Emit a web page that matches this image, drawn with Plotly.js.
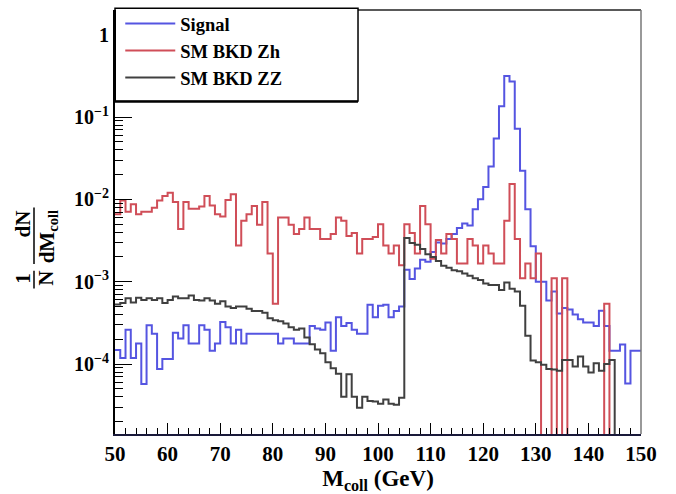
<!DOCTYPE html>
<html><head><meta charset="utf-8">
<script src="https://cdn.plot.ly/plotly-3.0.1.min.js"></script>
<style>body{margin:0;background:#fff}#chart{width:676px;height:494px}</style>
</head><body><div id="chart"></div>
<script>
// Bin low edges (GeV), 1 GeV bins
const binLowEdges = [50,51,52,53,54,55,56,57,58,59,60,61,62,63,64,65,66,67,68,69,
70,71,72,73,74,75,76,77,78,79,80,81,82,83,84,85,86,87,88,89,
90,91,92,93,94,95,96,97,98,99,100,101,102,103,104,105,106,107,108,109,
110,111,112,113,114,115,116,117,118,119,120,121,122,123,124,125,126,127,128,129,
130,131,132,133,134,135,136,137,138,139,140,141,142,143,144,145,146,147,148,149];
const upperEdge = 150;

const signal = [1.48e-4,1.18e-4,2.6e-4,1.18e-4,1.77e-4,5.7e-5,2.95e-4,2.33e-4,8.7e-5,1.15e-4,
1.15e-4,2.4e-4,2.04e-4,2.95e-4,1.77e-4,1.77e-4,2.95e-4,2.6e-4,1.45e-4,1.77e-4,
3.25e-4,2.8e-4,1.77e-4,2.6e-4,1.77e-4,2.33e-4,2.33e-4,2.33e-4,2.33e-4,2.33e-4,
2.33e-4,1.77e-4,2.04e-4,2.04e-4,1.77e-4,1.77e-4,1.77e-4,2.9e-4,2.7e-4,2.6e-4,
3.2e-4,1.45e-4,3.7e-4,2.9e-4,3.16e-4,2.6e-4,2.33e-4,2.33e-4,5.25e-4,3.7e-4,
5.1e-4,5.25e-4,3.7e-4,4.4e-4,5.0e-4,1.4e-3,1.08e-3,1.45e-3,1.85e-3,1.75e-3,
2.3e-3,3.0e-3,2.9e-3,3.3e-3,3.8e-3,4.5e-3,5.1e-3,4.8e-3,7.6e-3,1.0e-2,
1.41e-2,2.5e-2,5.5e-2,0.135,0.316,0.27,0.072,0.0222,7.6e-3,2.7e-3,
1.0e-3,1.0e-3,5.9e-4,7.6e-4,4.1e-4,4.8e-4,4.6e-4,4.0e-4,3.5e-4,3.2e-4,
3.2e-4,2.9e-4,4.45e-4,2.9e-4,1.45e-4,1.45e-4,1.73e-4,5.8e-5,1.45e-4,1.45e-4];

const smZh = [6.6e-3,9.7e-3,7.06e-3,8.7e-3,6.6e-3,7.06e-3,7.06e-3,7.9e-3,9.7e-3,1.1e-2,
1.2e-2,9.3e-3,4.37e-3,9.3e-3,7.7e-3,7.7e-3,8.2e-3,1.1e-2,8.4e-3,6.6e-3,
6.2e-3,9.8e-3,1.15e-2,2.76e-3,5.5e-3,6.6e-3,8.3e-3,4.9e-3,9.3e-3,2.2e-3,
5.4e-4,6.0e-3,6.0e-3,4.9e-3,3.8e-3,4.37e-3,6.0e-3,4.37e-3,4.37e-3,3.3e-3,
3.3e-3,3.8e-3,6.0e-3,5.5e-3,3.6e-3,3.9e-3,2.2e-3,3.3e-3,3.3e-3,3.5e-3,
5.0e-3,2.76e-3,2.2e-3,2.76e-3,1.58e-3,5.0e-3,3.9e-3,2.2e-3,8.3e-3,5.0e-3,
1.9e-3,3.2e-3,2.2e-3,3.8e-3,3.3e-3,1.66e-3,1.66e-3,3.3e-3,2.76e-3,1.66e-3,
2.76e-3,2.2e-3,1.66e-3,1.66e-3,5.5e-3,1.54e-2,3.3e-3,1.1e-3,1.66e-3,1.1e-3,
2.2e-3,0,0,1.1e-3,0,1.1e-3,0,0,0,0,
0,0,0,5.4e-4,0,0,0,0,0,0];

const smZZ = [5.3e-4,5.5e-4,6.3e-4,5.6e-4,6.4e-4,6.0e-4,6.3e-4,6.0e-4,6.3e-4,5.5e-4,
6.0e-4,6.6e-4,6.3e-4,6.3e-4,6.8e-4,6.0e-4,5.9e-4,6.3e-4,5.9e-4,5.4e-4,
5.8e-4,5.0e-4,4.8e-4,5.0e-4,5.0e-4,4.7e-4,4.4e-4,4.4e-4,4.2e-4,3.6e-4,
3.4e-4,3.3e-4,3.1e-4,2.8e-4,2.6e-4,2.7e-4,2.1e-4,1.74e-4,1.5e-4,1.35e-4,
1.05e-4,8.9e-5,7.6e-5,4.0e-5,7.5e-5,4.0e-5,2.95e-5,4.0e-5,3.55e-5,3.5e-5,
3.3e-5,3.7e-5,3.3e-5,3.2e-5,3.9e-5,3.4e-3,2.96e-3,2.8e-3,2.5e-3,2.15e-3,
2.0e-3,1.78e-3,1.56e-3,1.48e-3,1.38e-3,1.34e-3,1.26e-3,1.18e-3,1.1e-3,1.05e-3,
9.5e-4,9.1e-4,9.1e-4,7.9e-4,9.8e-4,8.2e-4,7.6e-4,5.1e-4,2.2e-4,1.1e-4,
1.05e-4,9.8e-5,8.7e-5,8.6e-5,8.3e-5,1.12e-4,1.12e-4,9.3e-5,1.23e-4,9.3e-5,
7.9e-5,1.02e-4,8.3e-5,1.0e-4,1.12e-4,0,0,0,0,0];

const seriesNames = ['Signal','SM BKD Zh','SM BKD ZZ'];
const seriesColors = ['rgb(85,85,225)','rgb(208,78,88)','rgb(64,64,64)'];
const xTickVals = [50,60,70,80,90,100,110,120,130,140,150];
const yTickVals = [1e-4,1e-3,1e-2,1e-1,1];
const yTickText = ['10<sup>\u22124</sup>','10<sup>\u22123</sup>','10<sup>\u22122</sup>','10<sup>\u22121</sup>','1'];

const EMPTY_FLOOR = 1e-9; // empty bins drawn below the axis (like ROOT on log scale)
function stepTrace(vals, name, color){
  const x = binLowEdges.concat([upperEdge]);
  const v = vals.map(d => d > 0 ? d : EMPTY_FLOOR);
  const y = v.concat([v[v.length-1]]);
  return {x:x, y:y, type:'scatter', mode:'lines', name:name,
    line:{shape:'hv', color:color, width:2}, legendgroup:name};
}
const data = [stepTrace(signal, seriesNames[0], seriesColors[0]),
              stepTrace(smZh, seriesNames[1], seriesColors[1]),
              stepTrace(smZZ, seriesNames[2], seriesColors[2])];

const minorY = [];
for (let e=-5; e<=0; e++) for (let m=2; m<=9; m++) minorY.push(m*Math.pow(10,e));

const serif = 'Liberation Serif, Times New Roman, serif';
function yTitle(text, px, py){
  return {xref:'paper', yref:'paper', x:(px-115)/526, y:(434-py)/429, xanchor:'center', yanchor:'middle',
    text:'<b>'+text+'</b>', showarrow:false, textangle:-90,
    font:{family:serif, size:21, color:'#000'}};
}
const layout = {
  width:676, height:494,
  margin:{l:115, r:35, t:5, b:60},
  paper_bgcolor:'#fff', plot_bgcolor:'#fff',
  showlegend:true,
  legend:{x:0.01, y:1.012, xanchor:'left', yanchor:'top', bgcolor:'rgba(0,0,0,0)', borderwidth:0,
    font:{family:serif, size:18.5, color:'#000', weight:'bold'}, itemwidth:50,
    traceorder:'grouped', tracegroupgap:0},
  xaxis:{range:[50,150], tickvals:xTickVals,
    ticks:'inside', ticklen:11, tickwidth:1, tickcolor:'#000',
    minor:{dtick:2, ticks:'inside', ticklen:6, tickcolor:'#000', tickwidth:1},
    showgrid:false, zeroline:false, showline:true, linecolor:'#1a1a3a', linewidth:2, mirror:false,
    tickfont:{family:serif, size:21, color:'#000', weight:'bold'},
    title:{text:'M<sub>coll</sub> (GeV)', font:{family:serif, size:23, color:'#000', weight:'bold'}, standoff:4}},
  yaxis:{type:'log', range:[-4.85, 0.3], tickmode:'array', tickvals:yTickVals, ticktext:yTickText,
    ticks:'inside', ticklen:17, tickwidth:1, tickcolor:'#000',
    minor:{tickvals:minorY, ticks:'inside', ticklen:8, tickcolor:'#000', tickwidth:1},
    showgrid:false, zeroline:false, showline:true, linecolor:'#000', linewidth:2,
    tickfont:{family:serif, size:20, color:'#000', weight:'bold'}},
  shapes:[
    {type:'line', xref:'paper', yref:'paper', x0:0, x1:1, y0:1, y1:1, line:{color:'#222', width:1.5}},
    {type:'line', xref:'paper', yref:'paper', x0:1, x1:1, y0:0, y1:1, line:{color:'#777', width:1.5}},
    {type:'rect', xref:'paper', yref:'paper', x0:0, x1:0.462, y0:0.7855, y1:1.004, layer:'above',
      fillcolor:'#fff', line:{color:'#000', width:1.5}},
    {type:'line', xref:'paper', yref:'paper', x0:0, x1:0.462, y0:0.7835, y1:0.7835, layer:'above', line:{color:'#000', width:2}},
    {type:'line', xref:'paper', yref:'paper', x0:0.0, x1:0.0, y0:0.7855, y1:1, layer:'above', line:{color:'#000', width:2}},
    // y title fraction bars
    {type:'line', xref:'paper', yref:'paper', xsizemode:'pixel', xanchor:0, x0:-81, x1:-81, y0:0.343, y1:0.385, line:{color:'#000', width:1.5}},
    {type:'line', xref:'paper', yref:'paper', xsizemode:'pixel', xanchor:0, x0:-81, x1:-81, y0:0.401, y1:0.534, line:{color:'#000', width:1.5}}
  ],
  annotations:[
    yTitle('1', 23, 277),
    yTitle('N', 46, 277),
    yTitle('dN', 23, 222),
    yTitle('dM<sub>coll</sub>', 48, 234)
  ]
};
Plotly.newPlot('chart', data, layout, {displayModeBar:false, staticPlot:true});
</script></body></html>
